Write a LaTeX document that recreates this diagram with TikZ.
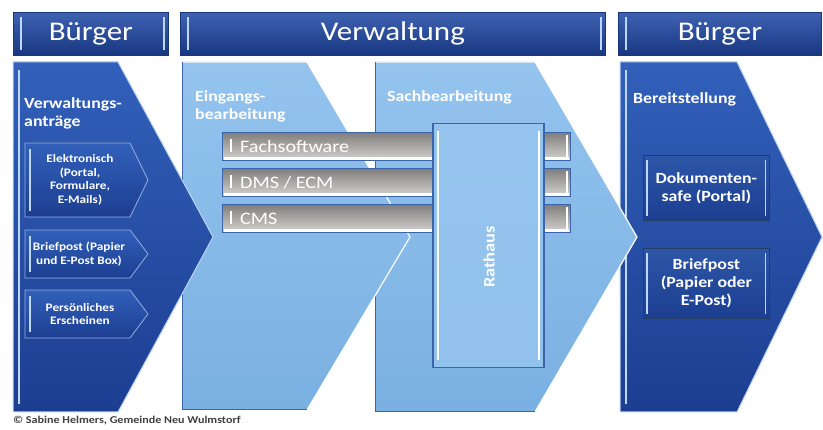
\documentclass[tikz,border=0pt]{standalone}
\usepackage{fontspec}
\setmainfont{Carlito}[FakeStretch=1.15]
\usepackage{xcolor}
\usepackage{tikz}

\definecolor{hdrtop}{RGB}{62,98,178}
\definecolor{hdrbot}{RGB}{24,54,128}
\definecolor{darktop}{RGB}{50,96,186}
\definecolor{darkbot}{RGB}{28,62,145}
\definecolor{lighttop}{RGB}{148,196,238}
\definecolor{lightbot}{RGB}{122,176,226}
\definecolor{edgeblue}{RGB}{60,100,170}
\definecolor{paleline}{RGB}{190,215,245}
\definecolor{bartop}{RGB}{128,126,124}
\definecolor{barbot}{RGB}{214,212,208}

\begin{document}
\begin{tikzpicture}[x=1pt,y=-1pt,
    hdr/.style={top color=hdrtop,bottom color=hdrbot,draw=hdrbot,line width=0.8pt,
      anchor=north west,minimum height=43pt,inner sep=0pt,text=white,
      font=\fontsize{27}{30}\selectfont},
    darkchev/.style={top color=darktop,bottom color=darkbot,draw=paleline,line width=1pt},
    lightchev/.style={top color=lighttop,bottom color=lightbot,draw=white,line width=1.2pt},
    itemchev/.style={top color=darktop,bottom color=darkbot,draw=paleline!70!darktop,line width=0.8pt},
    itembox/.style={top color=darktop!90!black,bottom color=darkbot,draw=edgeblue!60!black,line width=0.8pt,
      anchor=north west,minimum width=126pt,inner sep=0pt},
    graybar/.style={top color=bartop,bottom color=barbot,draw=edgeblue,line width=0.8pt,
      anchor=north west,minimum width=348pt,minimum height=28pt,inner sep=0pt},
    hl/.style={paleline,line width=1.6pt},
    lbl/.style={text=white,font=\bfseries\fontsize{15.5}{18}\selectfont,align=left,anchor=north west,inner sep=0pt},
    smalltxt/.style={text=white,font=\bfseries\fontsize{11.5}{13.5}\selectfont,align=center},
    boxtxt/.style={text=white,font=\bfseries\fontsize{15.5}{18}\selectfont,align=center},
    bartext/.style={text=white,font=\fontsize{17.5}{20}\selectfont,anchor=west,inner xsep=18pt}]

    \useasboundingbox[fill=white] (0,0) rectangle (823,430);

    % Headers
    \node[hdr,minimum width=155pt] (hdrleft) at (13,12) {Bürger};
    \node[hdr,minimum width=425pt] (hdrmid) at (180,12) {Verwaltung};
    \node[hdr,minimum width=203pt] (hdrright) at (618,12) {Bürger};
    \draw[hl] (21,17) -- (21,50);
    \draw[hl] (164,17) -- (164,50);
    \draw[hl] (188,17) -- (188,50);
    \draw[hl] (601,17) -- (601,50);
    \draw[hl] (626,17) -- (626,50);

    % Bereitstellung
    \filldraw[darkchev] (620,62) -- (737,62) -- (822,237) -- (737,412) -- (620,412) -- cycle;
    \draw[hl] (626,70) -- (626,404);
    \node[lbl] (bereit) at (633,92) {Bereitstellung};
    \node[itembox,minimum height=65pt] (doksafe) at (643,155) {};
    \node[boxtxt] at (doksafe) {Dokumenten-\\safe (Portal)};
    \node[itembox,minimum height=70pt] (brief2) at (643,248) {};
    \node[boxtxt] at (brief2) {Briefpost\\(Papier oder\\E-Post)};
    \foreach \b in {doksafe,brief2} {
      \draw[hl,line width=1.2pt] ([xshift=4pt,yshift=-5pt]\b.north west) -- ([xshift=4pt,yshift=5pt]\b.south west);
      \draw[hl,line width=1.2pt] ([xshift=-4pt,yshift=-5pt]\b.north east) -- ([xshift=-4pt,yshift=5pt]\b.south east);
    }

    % Sachbearbeitung
    \filldraw[lightchev] (375,62) -- (535,62) -- (637,237) -- (535,412) -- (375,412) -- cycle;
    \draw[edgeblue,line width=1pt] (375,62) -- (375,412) -- (535,412);
    \node[lbl] (sach) at (387,90) {Sachbearbeitung};

    % Eingangsbearbeitung
    \filldraw[lightchev] (182,62) -- (307,62) -- (410,237) -- (307,410) -- (182,410) -- cycle;
    \draw[edgeblue,line width=1pt] (182,62) -- (182,410) -- (307,410);
    \node[lbl] (eingang) at (195,90) {Eingangs-\\bearbeitung};

    % Verwaltungsantraege
    \filldraw[darkchev] (13,62) -- (118,62) -- (213,237) -- (118,412) -- (13,412) -- cycle;
    \draw[hl] (19,70) -- (19,404);
    \node[lbl] (antrag) at (24,97) {Verwaltungs-\\anträge};
    \filldraw[itemchev] (25,143) -- (130,143) -- (148,180) -- (130,217) -- (25,217) -- cycle;
    \node[smalltxt] (elektro) at (80,180) {Elektronisch\\(Portal,\\Formulare,\\E-Mails)};
    \filldraw[itemchev] (25,230) -- (130,230) -- (148,254) -- (130,278) -- (25,278) -- cycle;
    \node[smalltxt] (briefpost) at (79,254) {Briefpost (Papier\\und E-Post Box)};
    \filldraw[itemchev] (25,290) -- (130,290) -- (148,314) -- (130,338) -- (25,338) -- cycle;
    \node[smalltxt] (erschein) at (80,314) {Persönliches\\Erscheinen};
    \foreach \y/\h in {143/217,230/278,290/338}
      \draw[hl,line width=1.2pt] (30,\y+6) -- (30,\h-6);

    % Software bars
    \node[graybar] (fach) at (222,132) {};
    \node[bartext] at (fach.west) {Fachsoftware};
    \node[graybar] (dms) at (222,168) {};
    \node[bartext] at (dms.west) {DMS / ECM};
    \node[graybar] (cms) at (222,204) {};
    \node[bartext] at (cms.west) {CMS};
    \foreach \b in {fach,dms,cms} {
      \draw[white,line width=2.5pt] ([xshift=2pt,yshift=2.5pt]\b.south west) -- ([xshift=-2pt,yshift=2.5pt]\b.south east);
      \draw[white,line width=2pt] ([xshift=-4pt,yshift=-3pt]\b.north east) -- ([xshift=-4pt,yshift=3pt]\b.south east);
      \draw[white,line width=1.5pt] ([xshift=9pt,yshift=-7pt]\b.north west) -- ([xshift=9pt,yshift=9pt]\b.south west);
    }

    % Rathaus
    \node[top color=lighttop,bottom color=lighttop!90!lightbot,draw=edgeblue,line width=1.5pt,
      anchor=north west,minimum width=111pt,minimum height=244pt,inner sep=0pt] (rathaus) at (432,123) {};
    \draw[white,line width=2pt] ([xshift=6pt,yshift=-8pt]rathaus.north west) -- ([xshift=6pt,yshift=8pt]rathaus.south west);
    \draw[white,line width=2pt] ([xshift=-6pt,yshift=-8pt]rathaus.north east) -- ([xshift=-6pt,yshift=8pt]rathaus.south east);
    \node[rotate=90,text=white,font=\bfseries\fontsize{16}{19}\selectfont] at (489,257) {Rathaus};

    % Copyright
    \node[anchor=west,inner sep=0pt,text=black!75,font=\bfseries\fontsize{10.5}{12}\selectfont] (copy) at (13,421)
      {© Sabine Helmers, Gemeinde Neu Wulmstorf};
\end{tikzpicture}
\end{document}
